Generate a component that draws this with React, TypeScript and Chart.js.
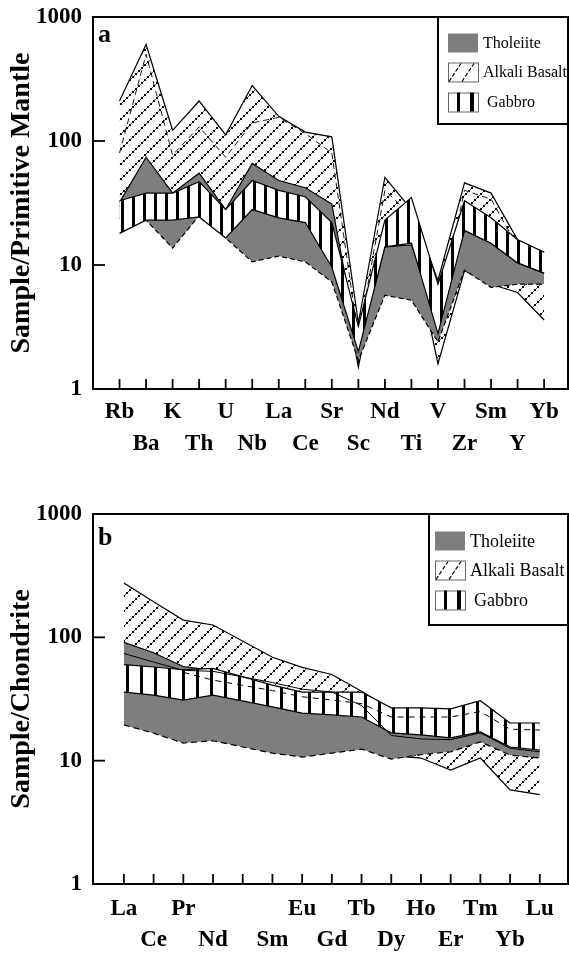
import React, { useEffect, useRef } from 'react';
import { Chart, registerables } from 'chart.js';

Chart.register(...registerables);

const SERIF = "'Liberation Serif', 'Times New Roman', Times, serif";

// ---------- shared ----------
const seriesNames = ['Tholeiite', 'Alkali Basalt', 'Gabbro'];
const yTickValues = [1, 10, 100, 1000];

// ---------- panel a : primitive-mantle normalised ----------
const traceElements = ['Rb', 'Ba', 'K', 'Th', 'U', 'Nb', 'La', 'Ce', 'Sr', 'Sc', 'Nd', 'Ti', 'V', 'Zr', 'Sm', 'Y', 'Yb'];
const alkaliUpperA = [210, 600, 122, 210, 112, 280, 158, 118, 108, 3.4, 51, 28, 7.5, 46, 38, 16, 12.5];
const alkaliLowerA = [30, 32, 32, 40, 26, 38, 34, 30, 20, 1.5, 18, 16, 1.6, 9, 7, 6, 3.6];
const alkaliDashA = [80, 500, 77, 130, 74, 140, 155, 115, 80, 2.6, 40, 25, 4, 40, 34, 14, 10];
const tholUpperA = [32, 74, 38, 55, 28, 66, 48, 42, 31, 2.2, 14, 14.5, 3.5, 19, 15, 10.4, 8.6];
const tholLowerA = [24, 23, 13.7, 25, 16.5, 10.6, 11.8, 10.6, 7.3, 1.7, 5.7, 5.2, 2.4, 9.1, 6.6, 7, 7];
const gabbroUpperA = [33, 38, 38, 47, 28, 48, 40, 35.5, 22, 3.2, 23, 35, 7, 33, 24, 16, 12.7];
const gabbroLowerA = [18, 23, 23, 24.4, 16.5, 28, 24, 22, 9.6, 2.0, 14, 15, 2.8, 19, 15, 10.4, 8.6];

// ---------- panel b : chondrite normalised REE ----------
const reeElements = ['La', 'Ce', 'Pr', 'Nd', '', 'Sm', 'Eu', 'Gd', 'Tb', 'Dy', 'Ho', 'Er', 'Tm', 'Yb', 'Lu'];
const alkaliUpperB = [276, 194, 138, 126, null, 69, 57, 50, 36.5, 26, 26, 25, 29, 19.5, 19.5];
const alkaliLowerB = [90, 70, 55, 52, null, 40, 35, 33, 28, 11, 10.5, 8.4, 10.5, 5.8, 5.3];
const tholUpperB = [91, 75, 58, 54, null, 40, 35, 34, 30, 18, 17, 16.5, 18.5, 14, 13];
const tholLowerB = [19.5, 16.7, 13.9, 14.5, null, 11.5, 10.7, 11.5, 12.4, 10.3, 11.2, 11.8, 14.2, 11.1, 10.5];
const gabbroUpperB = [60, 57.5, 54.6, 56, null, 41, 36, 36, 36, 26.8, 26.8, 26.3, 30.6, 20.2, 20.2];
const gabbroLowerB = [36, 34, 31, 34, null, 27.3, 24.3, 23.5, 22.6, 16.8, 16.2, 15.3, 17.1, 12.9, 12.2];
const innerLineB = [74, 63, 54, 53, null, 43, 38, 36, 28, 16, 15, 14.8, 16.8, 12.6, 11.8];
const dashLineB = [null, null, 52, 45, null, 37, 33, 31, 29, 22.6, 22.6, 22.6, 25, 18, 17.7];

const GREY = '#7e7e7e';

function makeHatch(): CanvasPattern {
  const c = document.createElement('canvas');
  c.width = 15;
  c.height = 15;
  const g = c.getContext('2d')!;
  g.fillStyle = '#fff';
  g.fillRect(0, 0, 15, 15);
  for (let i = 0; i < 15; i += 3) {
    g.fillStyle = '#000';
    g.fillRect(i, 13 - i, 2, 2);
    g.fillStyle = '#555';
    g.fillRect((i + 2) % 15, (12 - i + 15) % 15, 1, 1);
  }
  return g.createPattern(c, 'repeat')!;
}

function makeBars(step: number): CanvasPattern {
  const c = document.createElement('canvas');
  c.width = step;
  c.height = 4;
  const g = c.getContext('2d')!;
  g.fillStyle = '#fff';
  g.fillRect(0, 0, step, 4);
  g.fillStyle = '#000';
  g.fillRect(0, 0, 3, 4);
  return g.createPattern(c, 'repeat')!;
}

function toPoints(vals: (number | null)[]) {
  return vals.map((v, i) => ({ x: i, y: v })).filter((p) => p.y !== null);
}

const decorPlugin = {
  id: 'decor',
  afterDraw(chart: any, _args: any, opts: any) {
    const { ctx, chartArea: a, scales } = chart;
    const xs = scales.x;
    const ys = scales.y;
    ctx.save();
    ctx.strokeStyle = '#000';
    ctx.lineWidth = 1.8;
    xs.ticks.forEach((t: any) => {
      const px = xs.getPixelForValue(t.value);
      ctx.beginPath();
      ctx.moveTo(px, a.bottom);
      ctx.lineTo(px, a.bottom - 10);
      ctx.stroke();
    });
    ys.ticks.forEach((t: any) => {
      const py = ys.getPixelForValue(t.value);
      if (py <= a.top + 2 || py >= a.bottom - 2) return;
      ctx.beginPath();
      ctx.moveTo(a.left, py);
      ctx.lineTo(a.left + 12, py);
      ctx.stroke();
    });
    ctx.lineWidth = 2;
    ctx.strokeRect(a.left, a.top, a.right - a.left, a.bottom - a.top);

    // panel letter
    ctx.fillStyle = '#000';
    ctx.font = `bold 26px ${SERIF}`;
    ctx.textBaseline = 'alphabetic';
    ctx.textAlign = 'left';
    ctx.fillText(opts.letter, a.left + 5, a.top + opts.letterDy);

    // legend box
    const L = opts.legend;
    const bx = a.right - L.w;
    const by = a.top;
    ctx.fillStyle = '#fff';
    ctx.fillRect(bx, by, L.w, L.h);
    ctx.lineWidth = 2;
    ctx.strokeStyle = '#000';
    ctx.strokeRect(bx, by, L.w, L.h);
    seriesNames.forEach((name, k) => {
      const cy = by + L.rows[k];
      const sx = bx + L.sx;
      const sy = cy - 9.5;
      const sw = 30;
      const sh = 19;
      if (k === 0) {
        ctx.fillStyle = GREY;
        ctx.fillRect(sx, sy, sw, sh);
      } else {
        ctx.fillStyle = '#fff';
        ctx.fillRect(sx, sy, sw, sh);
        ctx.lineWidth = 1;
        ctx.strokeStyle = '#666';
        ctx.strokeRect(sx + 0.5, sy + 0.5, sw, sh);
        ctx.strokeStyle = '#000';
        if (k === 1) {
          ctx.setLineDash([4, 2]);
          ctx.lineWidth = 1.2;
          ctx.beginPath();
          ctx.moveTo(sx + 1, sy + sh);
          ctx.lineTo(sx + 13, sy + 1);
          ctx.moveTo(sx + 14, sy + sh);
          ctx.lineTo(sx + 26, sy + 1);
          ctx.stroke();
          ctx.setLineDash([]);
        } else {
          ctx.fillStyle = '#000';
          ctx.fillRect(sx + 9, sy, 3, sh);
          ctx.fillRect(sx + 22, sy, 4, sh);
        }
      }
      ctx.fillStyle = '#000';
      ctx.font = `${L.font}px ${SERIF}`;
      ctx.textBaseline = 'middle';
      ctx.fillText(name, bx + L.tx + (k === 2 ? 4 : 0), cy + 1);
    });
    ctx.restore();
  },
};

type Band = { upper: (number | null)[]; lower: (number | null)[]; fill: any; order: number; name: string; lowerDash?: number[] };
type Extra = { values: (number | null)[]; dash: number[]; order: number; width: number };

function buildConfig(p: {
  ticks: string[];
  bands: Band[];
  extras: Extra[];
  xMin: number;
  xMax: number;
  xHeight: number;
  xPad: number;
  xLine: number;
  padTop: number;
  yTitle: string;
  letter: string;
  letterDy: number;
  legend: any;
}): any {
  const datasets: any[] = [];
  p.extras.forEach((e) => {
    datasets.push({
      label: '',
      data: toPoints(e.values),
      borderColor: '#000',
      borderWidth: e.width,
      borderDash: e.dash,
      pointRadius: 0,
      fill: false,
      order: e.order,
    });
  });
  p.bands.forEach((band) => {
    const lowerIdx = datasets.length;
    datasets.push({
      label: band.name,
      data: toPoints(band.lower),
      borderColor: '#000',
      borderWidth: 1.2,
      borderDash: band.lowerDash || [],
      pointRadius: 0,
      fill: false,
      order: band.order,
    });
    datasets.push({
      label: band.name,
      data: toPoints(band.upper),
      borderColor: '#000',
      borderWidth: 1.2,
      pointRadius: 0,
      fill: lowerIdx,
      backgroundColor: band.fill,
      order: band.order,
    });
  });

  return {
    type: 'line',
    data: { datasets },
    plugins: [decorPlugin],
    options: {
      animation: false,
      responsive: false,
      devicePixelRatio: 1,
      events: [],
      layout: { padding: { top: p.padTop, right: 1, bottom: 0, left: 0 } },
      elements: { line: { tension: 0 } },
      plugins: {
        legend: { display: false },
        tooltip: { enabled: false },
        decor: { letter: p.letter, letterDy: p.letterDy, legend: p.legend },
      },
      scales: {
        x: {
          type: 'linear',
          min: p.xMin,
          max: p.xMax,
          grid: { display: false, drawTicks: false },
          border: { display: false },
          afterBuildTicks: (s: any) => {
            s.ticks = p.ticks.map((_, i) => ({ value: i }));
          },
          afterFit: (s: any) => {
            s.height = p.xHeight;
            s.paddingLeft = 0;
            s.paddingRight = 0;
          },
          ticks: {
            autoSkip: false,
            maxRotation: 0,
            minRotation: 0,
            padding: p.xPad,
            color: '#000',
            font: { family: SERIF, size: 23, weight: 'bold', lineHeight: p.xLine },
            callback: (v: any) => {
              const i = Math.round(Number(v));
              const t = p.ticks[i] ?? '';
              return i % 2 === 0 ? t : ['', t];
            },
          },
        },
        y: {
          type: 'logarithmic',
          min: 1,
          max: 1000,
          grid: { display: false, drawTicks: false },
          border: { display: false },
          afterBuildTicks: (s: any) => {
            s.ticks = yTickValues.map((v) => ({ value: v }));
          },
          afterFit: (s: any) => {
            s.width = 93;
            s.paddingTop = 0;
            s.paddingBottom = 0;
          },
          ticks: {
            padding: 11,
            color: '#000',
            font: { family: SERIF, size: 23, weight: 'bold' },
            callback: (v: any) => String(v),
          },
          title: {
            display: true,
            text: p.yTitle,
            color: '#000',
            font: { family: SERIF, size: 28, weight: 'bold' },
            padding: { top: 5, bottom: 0 },
          },
        },
      },
    },
  };
}

export default function App() {
  const topRef = useRef<HTMLCanvasElement>(null);
  const botRef = useRef<HTMLCanvasElement>(null);

  useEffect(() => {
    const hatch = makeHatch();
    const barsA = makeBars(11);
    const barsB = makeBars(14);

    const chartA = new Chart(
      topRef.current!,
      buildConfig({
        ticks: traceElements,
        bands: [
          { name: seriesNames[1], upper: alkaliUpperA, lower: alkaliLowerA, fill: hatch, order: 3 },
          { name: seriesNames[0], upper: tholUpperA, lower: tholLowerA, fill: GREY, order: 2, lowerDash: [5, 3] },
          { name: seriesNames[2], upper: gabbroUpperA, lower: gabbroLowerA, fill: barsA, order: 1 },
        ],
        // dashed alkali line inside the hatched field (drawn under tholeiite & gabbro)
        extras: [{ values: alkaliDashA, dash: [6, 4], order: 2.5, width: 0.9 }],
        xMin: -1,
        xMax: 16.9,
        xHeight: 91,
        xPad: 7,
        xLine: 1.39,
        padTop: 17,
        yTitle: 'Sample/Primitive Mantle',
        letter: 'a',
        letterDy: 25,
        legend: { w: 130, h: 107, rows: [26, 55, 85], sx: 10, tx: 45, font: 16 },
      }) as any
    );

    const chartB = new Chart(
      botRef.current!,
      buildConfig({
        ticks: reeElements,
        bands: [
          { name: seriesNames[1], upper: alkaliUpperB, lower: alkaliLowerB, fill: hatch, order: 3 },
          { name: seriesNames[0], upper: tholUpperB, lower: tholLowerB, fill: GREY, order: 2, lowerDash: [6, 4] },
          { name: seriesNames[2], upper: gabbroUpperB, lower: gabbroLowerB, fill: barsB, order: 1 },
        ],
        extras: [
          { values: innerLineB, dash: [], order: 0, width: 1 },
          { values: dashLineB, dash: [6, 5], order: 0, width: 1 },
        ],
        xMin: -1.04,
        xMax: 14.95,
        xHeight: 71,
        xPad: 10,
        xLine: 1.348,
        padTop: 34,
        yTitle: 'Sample/Chondrite',
        letter: 'b',
        letterDy: 31,
        legend: { w: 139, h: 111, rows: [27, 56, 86], sx: 6, tx: 41, font: 18 },
      }) as any
    );

    return () => {
      chartA.destroy();
      chartB.destroy();
    };
  }, []);

  return (
    <div style={{ position: 'absolute', left: 0, top: 0, width: 569, height: 955, background: '#fff' }}>
      <canvas ref={topRef} width={569} height={480} style={{ position: 'absolute', left: 0, top: 0 }} />
      <canvas ref={botRef} width={569} height={475} style={{ position: 'absolute', left: 0, top: 480 }} />
    </div>
  );
}
